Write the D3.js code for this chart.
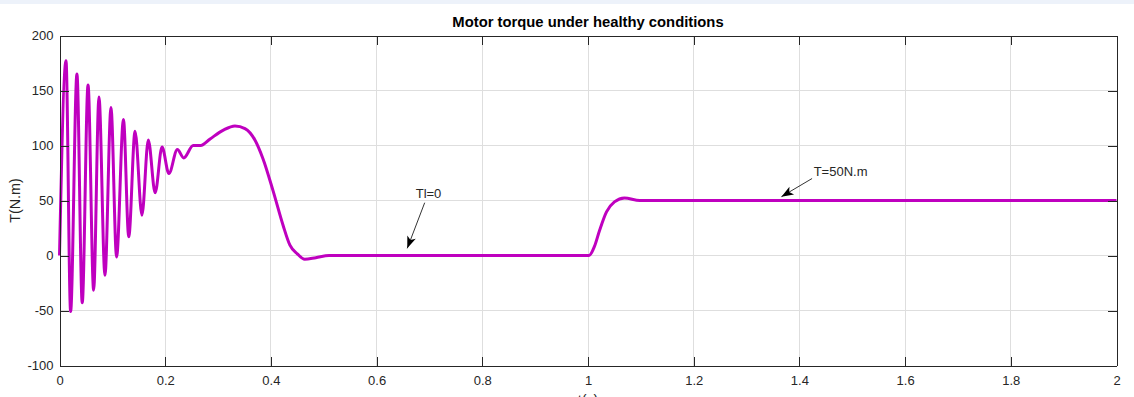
<!DOCTYPE html>
<html>
<head>
<meta charset="utf-8">
<script src="https://cdn.jsdelivr.net/npm/d3@7"></script>
<style>
	body { margin: 0; background: #fff; }
	svg { display: block; font-family: "Liberation Sans", Arial, Helvetica, sans-serif; }
	.axis path, .axis line { stroke: #262626; shape-rendering: crispEdges; }
	.axis text { fill: #262626; font-size: 13px; }
	.grid line { stroke: #dedede; shape-rendering: crispEdges; }
</style>
</head>
<body>
<svg id="chart"></svg>
<script>
'use strict'

// torque curve (time in s, torque in N.m)
const times = [0, 0.0123, 0.021, 0.033, 0.043, 0.054, 0.0646, 0.0747, 0.086, 0.0974,
	0.108, 0.121, 0.131, 0.143, 0.156, 0.168, 0.181, 0.194, 0.207, 0.223,
	0.235, 0.253, 0.267, 0.285, 0.31, 0.332, 0.351, 0.37, 0.385, 0.404,
	0.423, 0.436, 0.45, 0.464, 0.485, 0.51, 1.002, 1.012, 1.022, 1.035,
	1.05, 1.069, 1.098, 2]
const torque = [0, 177, -51, 165, -43, 155, -31.5, 144, -18, 134.5,
	-1.3, 123.6, 17, 113, 36.6, 105, 57, 98.7, 74.5, 96.4,
	88.7, 100, 100, 106, 114, 117.8, 115.4, 104.8, 88, 59,
	27.5, 9.4, 1.5, -3.5, -2, 0, 0, 8, 23, 39.7,
	48.7, 52.3, 50, 50]

const xTicks = [0, 0.2, 0.4, 0.6, 0.8, 1, 1.2, 1.4, 1.6, 1.8, 2]
const yTicks = [-100, -50, 0, 50, 100, 150, 200]

// annotations: [text, text pos, arrow start, arrow tip] in data units
const notes = [
	['Tl=0', [0.674, 52], [0.691, 48], [0.658, 6.5]],
	['T=50N.m', [1.427, 72], [1.424, 70], [1.366, 53.5]]
]

const data = times.map((t, i) => ({t: t, v: torque[i]}))

const width = 1134, height = 397
const box = {left: 59.5, right: 1116.5, top: 35.5, bottom: 365.5}

const svg = d3.select('#chart')
	.attr('width', width)
	.attr('height', height)

// thin bluish strip along the top of the window
svg.append('rect')
	.attr('width', width)
	.attr('height', 4)
	.attr('fill', '#edf2fa')

const x = d3.scaleLinear().domain([0, 2]).range([box.left, box.right])
const y = d3.scaleLinear().domain([-100, 200]).range([box.bottom, box.top])
const plain = (d) => String(d) // keep the ascii hyphen for negatives, like matlab

// grid lines
const grid = svg.append('g').classed('grid', true)
grid.selectAll('.gx')
	.data(xTicks.slice(1, -1))
	.enter().append('line')
	.attr('x1', (d) => x(d)).attr('x2', (d) => x(d))
	.attr('y1', box.top).attr('y2', box.bottom)
grid.selectAll('.gy')
	.data(yTicks.slice(1, -1))
	.enter().append('line')
	.attr('x1', box.left).attr('x2', box.right)
	.attr('y1', (d) => y(d)).attr('y2', (d) => y(d))

// torque line
svg.append('path')
	.datum(data)
	.attr('fill', 'none')
	.attr('stroke', '#bf00bf')
	.attr('stroke-width', 3)
	.attr('stroke-linejoin', 'round')
	.attr('d', d3.line().x((d) => x(d.t)).y((d) => y(d.v)).curve(d3.curveMonotoneX))

// axes, ticks point inwards on all four sides
svg.append('g').classed('axis', true)
	.attr('transform', 'translate(0,' + box.bottom + ')')
	.call(d3.axisBottom(x).tickValues(xTicks).tickSizeInner(-9).tickSizeOuter(0).tickPadding(10).tickFormat(plain))
svg.append('g').classed('axis', true)
	.attr('transform', 'translate(0,' + box.top + ')')
	.call(d3.axisTop(x).tickValues(xTicks).tickSizeInner(-9).tickSizeOuter(0).tickFormat(''))
svg.append('g').classed('axis', true)
	.attr('transform', 'translate(' + box.left + ',0)')
	.call(d3.axisLeft(y).tickValues(yTicks).tickSizeInner(-9).tickSizeOuter(0).tickPadding(6).tickFormat(plain))
svg.append('g').classed('axis', true)
	.attr('transform', 'translate(' + box.right + ',0)')
	.call(d3.axisRight(y).tickValues(yTicks).tickSizeInner(-9).tickSizeOuter(0).tickFormat(''))
svg.selectAll('.axis .domain').attr('stroke-width', 1)

// title and axis labels
svg.append('text')
	.attr('x', (box.left + box.right) / 2)
	.attr('y', 26.5)
	.attr('text-anchor', 'middle')
	.style('font-size', '14.8px')
	.style('font-weight', 'bold')
	.text('Motor torque under healthy conditions')
svg.append('text')
	.attr('x', (box.left + box.right) / 2)
	.attr('y', 405)
	.attr('text-anchor', 'middle')
	.attr('fill', '#262626')
	.style('font-size', '14.3px')
	.text('t(s)')
svg.append('text')
	.attr('transform', 'rotate(-90)')
	.attr('x', -(box.top + box.bottom) / 2)
	.attr('y', 19.5)
	.attr('text-anchor', 'middle')
	.attr('fill', '#262626')
	.style('font-size', '14.3px')
	.text('T(N.m)')

// arrow head
svg.append('defs').append('marker')
	.attr('id', 'head')
	.attr('markerUnits', 'userSpaceOnUse')
	.attr('viewBox', '-13 -6 14 12')
	.attr('markerWidth', 14).attr('markerHeight', 12)
	.attr('refX', 0).attr('refY', 0)
	.attr('orient', 'auto')
	.append('path')
	.attr('d', 'M0,0 L-12,-4.5 L-9,0 L-12,4.5 Z')
	.attr('fill', '#000')

const note = svg.selectAll('.note')
	.data(notes)
	.enter().append('g')
note.append('line')
	.attr('x1', (d) => x(d[2][0])).attr('y1', (d) => y(d[2][1]))
	.attr('x2', (d) => x(d[3][0])).attr('y2', (d) => y(d[3][1]))
	.attr('stroke', '#000')
	.attr('stroke-width', 0.8)
	.attr('marker-end', 'url(#head)')
note.append('text')
	.attr('x', (d) => x(d[1][0]))
	.attr('y', (d) => y(d[1][1]))
	.attr('fill', '#262626')
	.style('font-size', '13px')
	.text((d) => d[0])
</script>
</body>
</html>
